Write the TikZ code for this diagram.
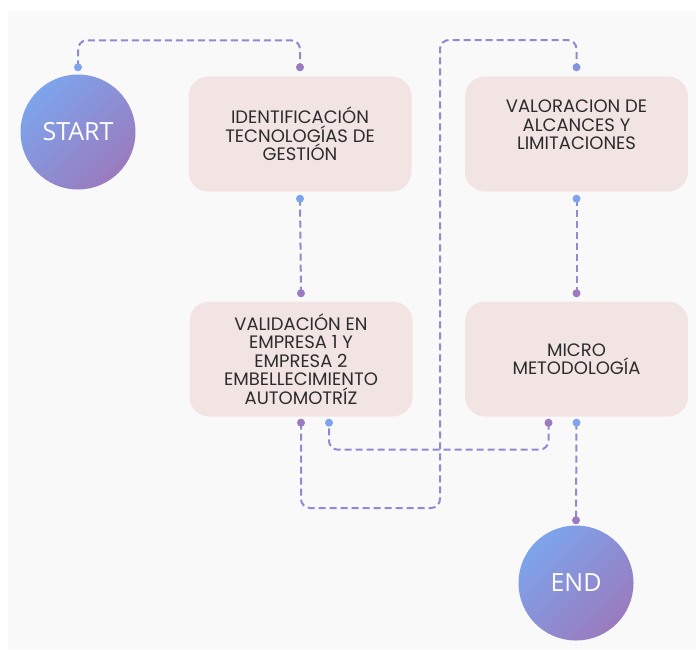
\documentclass[tikz,border=0pt]{standalone}
\usepackage{fontspec}
\setmainfont{Poppins}
\newfontfamily\roundfont{Open Sans}
\usepackage{xcolor}

\definecolor{bgGray}{HTML}{F9F9F9}
\definecolor{boxPink}{HTML}{F3E4E4}
\definecolor{dotBlue}{HTML}{7DA4EC}
\definecolor{dotPurple}{HTML}{9A7BBE}
\definecolor{dotMid}{HTML}{8592DE}
\definecolor{lineViolet}{HTML}{8E8BD0}
\definecolor{textGray}{HTML}{2C2C2C}

\tikzset{
  stepbox/.style={rectangle, rounded corners=20pt, fill=boxPink, minimum width=223pt, minimum height=115pt,
    align=center, text=textGray, font=\fontsize{18}{18.5}\selectfont},
  endpoint/.style={circle, minimum size=115pt, top color=dotBlue, bottom color=dotPurple, shading angle=45,
    text=white, font=\roundfont\fontsize{25}{28}\selectfont},
  link/.style={lineViolet, line width=2pt, dash pattern=on 7pt off 4pt, rounded corners=9pt},
}

\begin{document}
\begin{tikzpicture}[x=1pt,y=-1pt]
        % Background
        \useasboundingbox (0,0) rectangle (696,649);
        \fill[white] (0,0) rectangle (696,649);
        \fill[bgGray] (8,11) rectangle (696,649);

        % Start and end
        \node[endpoint] (start) at (78,132) {START};
        \node[endpoint] (finish) at (576,583) {END};

        % Steps
        \node[stepbox] (ident) at (300,134) {IDENTIFICACIÓN\\TECNOLOGÍAS DE\\GESTIÓN};
        \node[stepbox] (valor) at (576.5,134) {VALORACION DE\\ALCANCES Y\\LIMITACIONES\\[0pt]\vphantom{X}};
        \node[stepbox] (valid) at (301,359) {VALIDACIÓN EN\\EMPRESA 1 Y\\EMPRESA 2\\EMBELLECIMIENTO\\AUTOMOTRÍZ};
        \node[stepbox] (micro) at (576.5,359) {MICRO\\METODOLOGÍA};

        % Dot positions
        \coordinate (startTop) at ([yshift=7pt]start.north);
        \coordinate (identTop) at ([yshift=9pt]ident.north);
        \coordinate (identBot) at ([yshift=-7pt]ident.south);
        \coordinate (validTop) at ([yshift=8pt]valid.north);
        \coordinate (validBotA) at ([yshift=-6pt]valid.south);
        \coordinate (validBotB) at ([xshift=28pt,yshift=-6pt]valid.south);
        \coordinate (valorTop) at ([yshift=9pt]valor.north);
        \coordinate (valorBot) at ([yshift=-7pt]valor.south);
        \coordinate (microTop) at ([yshift=8pt]micro.north);
        \coordinate (microBotA) at ([xshift=-28pt,yshift=-6pt]micro.south);
        \coordinate (microBotB) at ([yshift=-6pt]micro.south);
        \coordinate (finishTop) at ([yshift=5pt]finish.north);

        % Links
        \draw[link] (startTop) -- ++(0,-27) -| (identTop);
        \draw[link] (identBot) -- (validTop);
        \draw[link] (validBotA) |- (440,508) -- (440,40) -| (valorTop);
        \draw[link] (valorBot) -- (microTop);
        \draw[link] (microBotA) -- ++(0,27) -| (validBotB);
        \draw[link] (microBotB) -- (finishTop);

        % Dots
        \foreach \p in {startTop,identBot,validBotB,valorBot,microBotB}
          \fill[dotBlue] (\p) circle (4pt);
        \foreach \p in {identTop,validTop,validBotA,microTop,microBotA,finishTop}
          \fill[dotPurple] (\p) circle (4pt);
        \fill[dotMid] (valorTop) circle (4pt);
    \end{tikzpicture}
\end{document}
